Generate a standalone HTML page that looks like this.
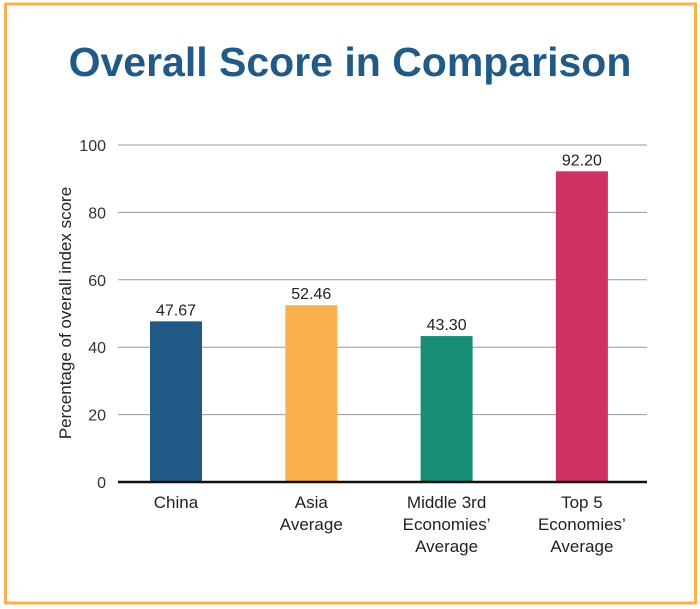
<!DOCTYPE html>
<html><head><meta charset="utf-8"><style>
html,body{margin:0;padding:0;background:#fff;width:700px;height:609px;overflow:hidden}
svg text{font-family:"Liberation Sans",sans-serif}
</style></head><body>
<svg id="chart" width="700" height="609" viewBox="0 0 700 609" xmlns="http://www.w3.org/2000/svg">
<rect x="5.5" y="4" width="690" height="599" fill="none" stroke="#fbb14b" stroke-width="3"/>
<text x="350" y="76" text-anchor="middle" font-size="41" font-weight="bold" fill="#215a87">Overall Score in Comparison</text>
<text transform="translate(71,313) rotate(-90)" text-anchor="middle" font-size="17" fill="#222">Percentage of overall index score</text>
<g id="grid"></g><g id="bars"></g><g id="xlabels"></g>
</svg>
<script>
const categories=[["China"],["Asia","Average"],["Middle 3rd","Economies’","Average"],["Top 5","Economies’","Average"]];
const values=[47.67,52.46,43.30,92.20];
const valueLabels=["47.67","52.46","43.30","92.20"];
const colors=["#215a87","#fbb14b","#188f74","#ce3162"];
const ticks=[0,20,40,60,80,100];
const svg=document.getElementById('chart'),NS="http://www.w3.org/2000/svg";
const y0=482,y1=145,x0=118,x1=647;
const yS=v=>y0-(v/100)*(y0-y1);
const xC=i=>176+i*135.3;
function mk(t,a,p){const e=document.createElementNS(NS,t);for(const k in a)e.setAttribute(k,a[k]);p.appendChild(e);return e;}
const g=document.getElementById('grid');
ticks.forEach(t=>{
 if(t>0){const l=mk('line',{x1:x0,x2:x1,y1:yS(t),y2:yS(t),stroke:'#999','stroke-width':1},g);
 
 }
 const tx=mk('text',{x:106,y:yS(t)+6,'text-anchor':'end','font-size':16,fill:'#333'},g);tx.textContent=t;
 
 
});
const b=document.getElementById('bars');
values.forEach((v,i)=>{
 const r=mk('rect',{x:xC(i)-26,y:yS(v),width:52,height:y0-yS(v),fill:colors[i]},b);
 
 
 const t=mk('text',{x:xC(i),y:yS(v)-6,'text-anchor':'middle','font-size':16,fill:'#222'},b);t.textContent=valueLabels[i];
 
 
});
const ax=mk('line',{x1:x0,x2:x1,y1:y0,y2:y0,stroke:'#111','stroke-width':2.5},svg);


const xl=document.getElementById('xlabels');
categories.forEach((c,i)=>{
 c.forEach((line,j)=>{
  const t=mk('text',{x:xC(i),y:508+j*22,'text-anchor':'middle','font-size':17,fill:'#222'},xl);t.textContent=line;
  
  
 });
});
</script>
</body></html>
